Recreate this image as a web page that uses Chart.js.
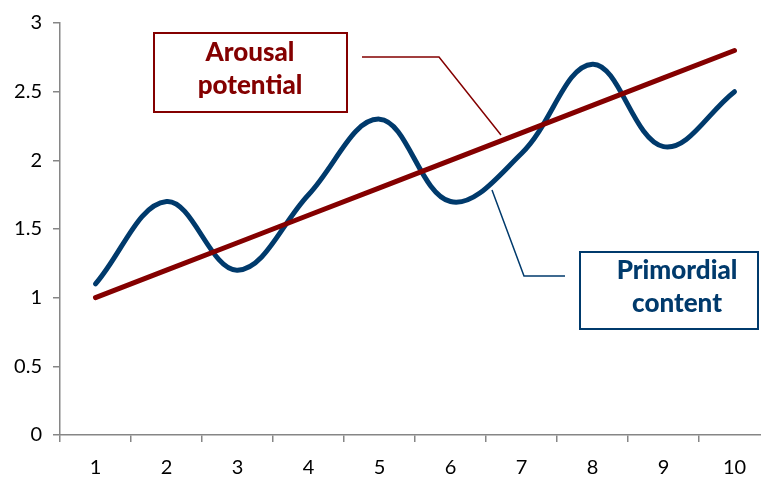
<!DOCTYPE html>
<html>
<head>
<meta charset="utf-8">
<script src="https://cdn.jsdelivr.net/npm/chart.js@4"></script>
<style>
html,body{margin:0;padding:0;overflow:hidden;background:#fff;}
#wrap{position:relative;width:780px;height:477px;}
</style>
</head>
<body>
<div id="wrap"><canvas id="c"></canvas></div>
<script>
const categories = ['1','2','3','4','5','6','7','8','9','10'];
const arousalPotential = [1.0, 1.2, 1.4, 1.6, 1.8, 2.0, 2.2, 2.4, 2.6, 2.8];
const primordialContent = [1.1, 1.7, 1.2, 1.75, 2.3, 1.7, 2.05, 2.7, 2.1, 2.5];
const yMin = 0, yMax = 3, yStep = 0.5;

const RED = '#840000';
const BLUE = '#003a6c';
const AXIS = '#868686';
const FONT = 'Lato, "Open Sans", sans-serif';

const callouts = {
  id: 'callouts',
  afterDatasetsDraw(chart) {
    const ctx = chart.ctx;
    ctx.save();
    ctx.lineWidth = 1.5;
    ctx.strokeStyle = RED;
    ctx.beginPath();
    ctx.moveTo(362, 57); ctx.lineTo(439, 57); ctx.lineTo(501, 135);
    ctx.stroke();
    ctx.strokeStyle = BLUE;
    ctx.beginPath();
    ctx.moveTo(492, 190); ctx.lineTo(524, 276); ctx.lineTo(565, 276);
    ctx.stroke();
    function box(x, y, w, h, color, lines, cx) {
      ctx.fillStyle = '#fff';
      ctx.fillRect(x, y, w, h);
      ctx.lineWidth = 2;
      ctx.strokeStyle = color;
      ctx.strokeRect(x, y, w, h);
      ctx.fillStyle = color;
      ctx.font = '900 26px Lato, sans-serif';
      ctx.textAlign = 'center';
      ctx.textBaseline = 'middle';
      lines.forEach(l => ctx.fillText(l.t, cx, l.y));
    }
    box(154, 33, 193, 79, RED, [{t:'Arousal', y:53}, {t:'potential', y:86}], 250);
    box(580, 252, 178, 77, BLUE, [{t:'Primordial', y:271}, {t:'content', y:304}], 677);
    ctx.restore();
  }
};

new Chart(document.getElementById('c'), {
  type: 'line',
  data: {
    labels: categories,
    datasets: [
      { label: 'Arousal potential', data: arousalPotential, borderColor: RED, borderWidth: 5,
        pointRadius: 0, tension: 0, borderCapStyle: 'round', fill: false },
      { label: 'Primordial content', data: primordialContent, borderColor: BLUE, borderWidth: 5,
        pointRadius: 0, tension: 0.38, borderCapStyle: 'round', borderJoinStyle: 'round', fill: false }
    ]
  },
  options: {
    responsive: true,
    maintainAspectRatio: false,
    animation: false,
    layout: { padding: { top: 23, right: 10, left: 0, bottom: 0 } },
    plugins: { legend: { display: false }, tooltip: { enabled: false } },
    scales: {
      x: {
        offset: true,
        grid: { offset: true, drawOnChartArea: false, drawTicks: true, tickLength: 7, color: AXIS, lineWidth: 1.5 },
        border: { color: AXIS, width: 1.5 },
        ticks: { color: '#000', font: { family: FONT, size: 20 }, padding: 14, maxRotation: 0 },
        afterFit(s) { s.height = 42; }
      },
      y: {
        min: yMin, max: yMax,
        grid: { drawOnChartArea: false, drawTicks: true, tickLength: 7, color: AXIS, lineWidth: 1.5 },
        border: { color: AXIS, width: 1.5 },
        ticks: { stepSize: yStep, color: '#000', font: { family: FONT, size: 20 }, padding: 11,
                 callback: v => String(Number(v)) },
        afterFit(s) { s.width = 60; }
      }
    }
  },
  plugins: [callouts]
});
</script>
</body>
</html>
